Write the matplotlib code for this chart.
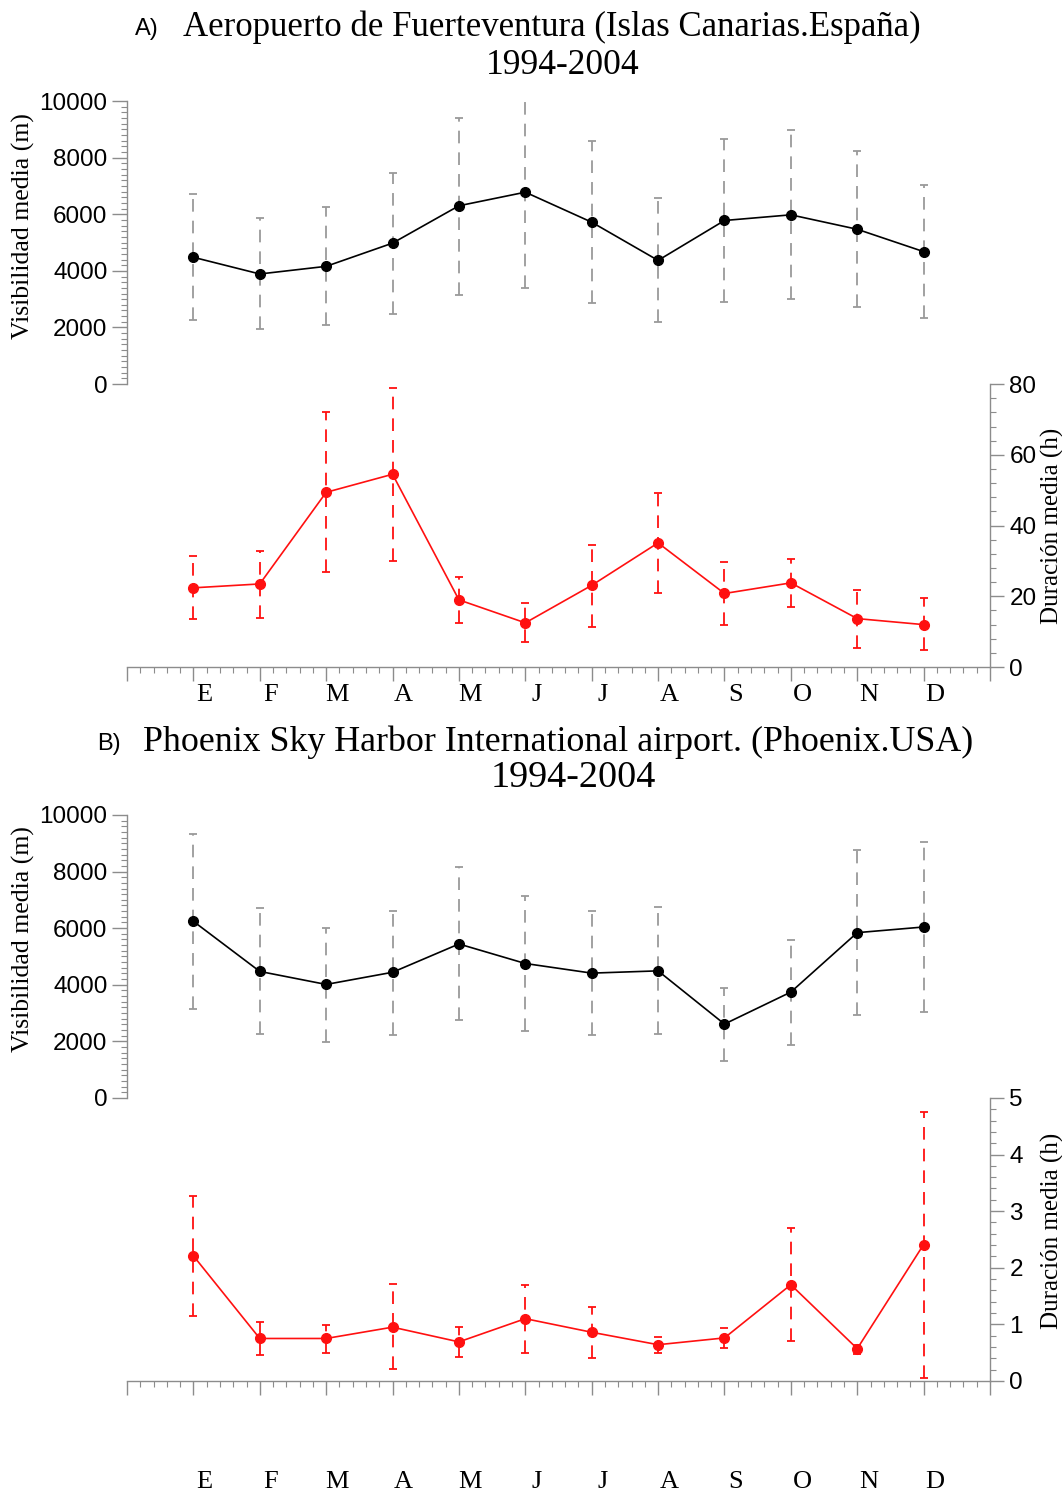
import numpy as np
import matplotlib.pyplot as plt
from matplotlib.ticker import FixedLocator
import matplotlib.transforms as mtransforms

meses = ['E', 'F', 'M', 'A', 'M', 'J', 'J', 'A', 'S', 'O', 'N', 'D']
x = np.arange(1, 13)

# A) Fuerteventura - visibilidad media (m) y duracion media (h)
vis_a = [4480, 3890, 4160, 4980, 6300, 6780, 5720, 4370, 5780, 5980, 5470, 4680]
vis_a_sup = [6720, 5860, 6250, 7470, 9400, 10180, 8600, 6560, 8660, 8970, 8230, 7020]
vis_a_inf = [2260, 1960, 2080, 2490, 3150, 3390, 2870, 2190, 2900, 2990, 2740, 2340]
dur_a = [22.4, 23.5, 49.4, 54.5, 19.0, 12.5, 23.1, 35.1, 20.8, 23.8, 13.7, 12.0]
dur_a_sup = [31.5, 32.9, 72.0, 79.0, 25.5, 18.2, 34.5, 49.2, 29.6, 30.6, 21.9, 19.5]
dur_a_inf = [13.5, 13.9, 26.9, 30.1, 12.5, 7.0, 11.4, 21.0, 11.8, 17.0, 5.5, 4.7]

# B) Phoenix
vis_b = [6240, 4470, 4010, 4440, 5440, 4750, 4410, 4490, 2610, 3740, 5840, 6040]
vis_b_sup = [9340, 6710, 6000, 6620, 8170, 7120, 6590, 6730, 3890, 5580, 8760, 9030]
vis_b_inf = [3130, 2250, 1990, 2230, 2740, 2380, 2220, 2270, 1320, 1880, 2930, 3040]
dur_b = [2.21, 0.75, 0.75, 0.95, 0.69, 1.10, 0.86, 0.64, 0.76, 1.70, 0.57, 2.41]
dur_b_sup = [3.27, 1.05, 0.99, 1.71, 0.95, 1.70, 1.31, 0.78, 0.93, 2.71, 0.63, 4.76]
dur_b_inf = [1.15, 0.46, 0.50, 0.21, 0.42, 0.50, 0.40, 0.50, 0.58, 0.70, 0.48, 0.06]

SERIF = 'Liberation Serif'
SANS = 'Liberation Sans'
GRIS = '#8c8c8c'

fig = plt.figure(figsize=(10.62, 14.95), dpi=100)


def errbar(ax, v, sup, inf, color, ecolor, ms, lw):
    v = np.array(v)
    err = [v - np.array(inf), np.array(sup) - v]
    line, caps, bars = ax.errorbar(x, v, yerr=err, fmt='-o', color=color, ecolor=ecolor,
                                   ms=ms, lw=lw, elinewidth=1.3, capsize=3, capthick=1.3)
    bars[0].set_linestyle((0, (7, 5)))
    return line


def panel(bottom, vis, vsup, vinf, dur, dsup, dinf, dmax, dstep, dminor, pad, ry):
    ax = fig.add_axes([0.1196, bottom, 0.8126, 0.3786])
    ax2 = ax.twinx()

    errbar(ax, vis, vsup, vinf, 'black', '#9a9a9a', 7, 1.2)
    errbar(ax2, dur, dsup, dinf, '#ff1010', '#ff1010', 7, 1.2)

    ax.set_xlim(0, 13)
    ax.set_ylim(-10000, 10000)
    ax2.set_ylim(0, 2 * dmax)

    for s in ['top', 'right']:
        ax.spines[s].set_visible(False)
    for s in ['top', 'left', 'bottom']:
        ax2.spines[s].set_visible(False)
    ax.spines['left'].set_bounds(0, 10000)
    ax2.spines['right'].set_bounds(0, dmax)
    for sp in [ax.spines['left'], ax.spines['bottom'], ax2.spines['right']]:
        sp.set_color(GRIS)
        sp.set_linewidth(1.0)

    ax.set_yticks(np.arange(0, 10001, 2000))
    ax.yaxis.set_minor_locator(FixedLocator(np.arange(0, 10001, 200)))
    ax2.set_yticks(np.arange(0, dmax + 0.001, dstep))
    ax2.yaxis.set_minor_locator(FixedLocator(np.arange(0, dmax + 0.001, dminor)))

    ax.set_xticks(np.arange(0, 14))
    ax.set_xticklabels([''] + meses + [''], fontfamily=SERIF, fontsize=19)
    ax.xaxis.set_minor_locator(FixedLocator(np.arange(0, 13.01, 0.2)))

    ax.tick_params(axis='y', which='major', length=11, width=1, color=GRIS,
                   labelsize=17.5, pad=3)
    ax.tick_params(axis='y', which='minor', length=4, width=0.8, color=GRIS)
    ax2.tick_params(axis='y', which='major', length=10, width=1, color=GRIS,
                    labelsize=17.5, pad=4)
    ax2.tick_params(axis='y', which='minor', length=4, width=0.8, color=GRIS)
    ax.tick_params(axis='x', which='major', length=10, width=1, color=GRIS, pad=pad)
    ax.tick_params(axis='x', which='minor', length=4, width=0.8, color=GRIS)
    for t in ax.get_yticklabels() + ax2.get_yticklabels():
        t.set_fontfamily(SANS)

    off = mtransforms.ScaledTranslation(8 / 72, 0, fig.dpi_scale_trans)
    for t in ax.get_xticklabels():
        t.set_transform(t.get_transform() + off)

    ax.set_ylabel('Visibilidad media (m)', fontfamily=SERIF, fontsize=18.5)
    ax.yaxis.set_label_coords(-0.107, 0.78)
    ax2.set_ylabel('Duración media (h)', fontfamily=SERIF, fontsize=18)
    ax2.yaxis.set_label_coords(1.059, ry)
    ax.patch.set_visible(False)
    return ax


panel(0.5538, vis_a, vis_a_sup, vis_a_inf, dur_a, dur_a_sup, dur_a_inf, 80, 20, 4, 2, 0.25)
panel(0.0763, vis_b, vis_b_sup, vis_b_inf, dur_b, dur_b_sup, dur_b_inf, 5, 1, 0.2, 55, 0.265)

# titulos
fig.text(135 / 1062, 1 - 29 / 1495, 'A)', fontfamily=SANS, fontsize=17, va='center', ha='left')
fig.text(183 / 1062, 1 - 27 / 1495, 'Aeropuerto de Fuerteventura (Islas Canarias.España)',
         fontfamily=SERIF, fontsize=25, va='center', ha='left')
fig.text(563 / 1062, 1 - 66 / 1495, '1994-2004', fontfamily=SERIF, fontsize=25.5,
         va='center', ha='center')

fig.text(97 / 1062, 1 - 744 / 1495, 'B)', fontfamily=SANS, fontsize=17, va='center', ha='left')
fig.text(143 / 1062, 1 - 742 / 1495, 'Phoenix Sky Harbor International airport. (Phoenix.USA)',
         fontfamily=SERIF, fontsize=25.8, va='center', ha='left')
fig.text(573 / 1062, 1 - 778 / 1495, '1994-2004', fontfamily=SERIF, fontsize=27.5,
         va='center', ha='center')

fig.savefig('out.png', dpi=100)
